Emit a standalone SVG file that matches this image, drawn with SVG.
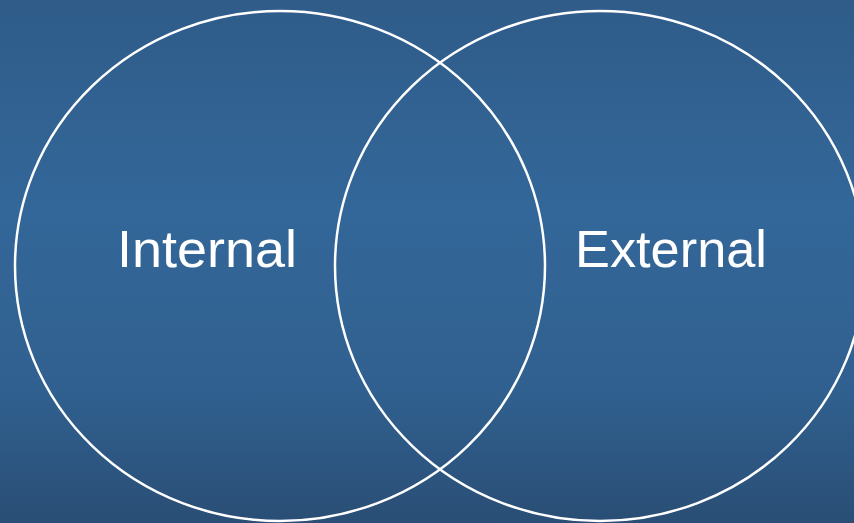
<svg xmlns="http://www.w3.org/2000/svg" width="854" height="523" viewBox="0 0 854 523">
<defs>
<linearGradient id="bg" x1="0" y1="0" x2="0" y2="1">
<stop offset="0" stop-color="#2f5c89"/>
<stop offset="0.4" stop-color="#336799"/>
<stop offset="0.75" stop-color="#30608f"/>
<stop offset="1" stop-color="#2a4e75"/>
</linearGradient>
<style>
.c{fill:none;stroke:#ffffff;stroke-width:2.5}
.t{fill:#ffffff;font-family:"Liberation Sans",Arial,sans-serif;font-size:52px;text-anchor:middle}
</style>
</defs>
<rect width="854" height="523" fill="url(#bg)"/>
<g id="internal">
<ellipse class="c" cx="280" cy="266" rx="265" ry="255"/>
<text class="t" x="207" y="267" textLength="180" lengthAdjust="spacingAndGlyphs">Internal</text>
</g>
<g id="external">
<ellipse class="c" cx="600" cy="266" rx="265" ry="255"/>
<text class="t" x="671" y="267" textLength="192" lengthAdjust="spacingAndGlyphs">External</text>
</g>
</svg>
